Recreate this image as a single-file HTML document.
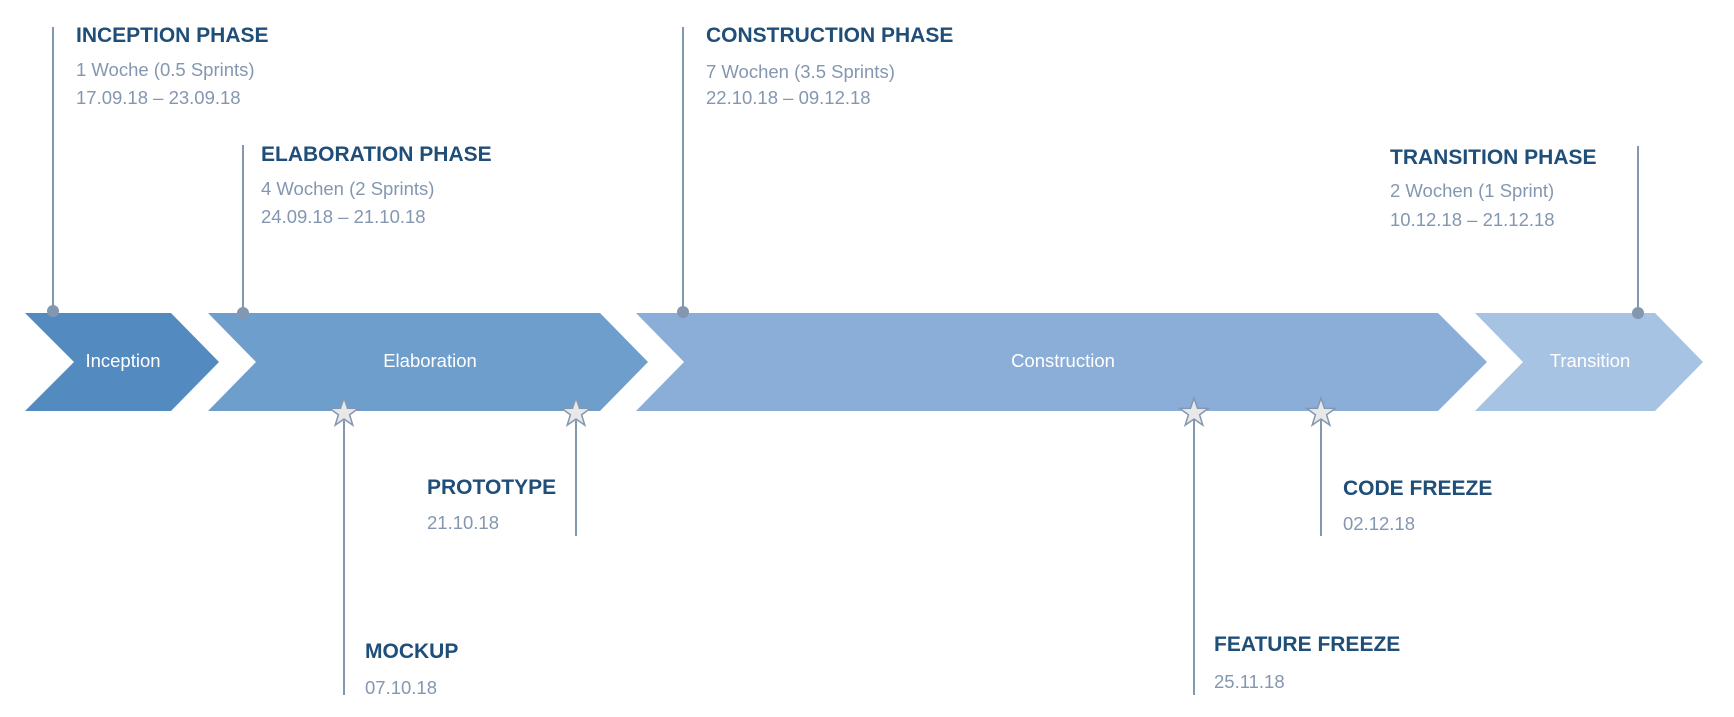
<!DOCTYPE html>
<html><head><meta charset="utf-8"><style>
html,body{margin:0;padding:0;background:#fff;}
svg{display:block;}
.h{font-family:"Liberation Sans",sans-serif;font-weight:bold;font-size:21px;fill:#1f4e79;}
.s{font-family:"Liberation Sans",sans-serif;font-size:18.5px;fill:#8497b0;}
.l{font-family:"Liberation Sans",sans-serif;font-size:18.5px;fill:#fff;}
.ln{stroke:#8497b0;stroke-width:2;}
.st{fill:#e8e8e8;stroke:#8497b0;stroke-width:1.5;}
</style></head><body>
<svg width="1734" height="717" viewBox="0 0 1734 717">
<defs>
<polygon id="star" points="0,-15 3.5,-4.8 14.3,-4.6 5.6,1.8 8.8,12.1 0,6 -8.8,12.1 -5.6,1.8 -14.3,-4.6 -3.5,-4.8"/>
</defs>
<polygon points="25,313 171,313 219,362 171,411 25,411 74,362" fill="#538bc1"/>
<polygon points="208,313 600,313 648,362 600,411 208,411 256,362" fill="#6d9ecc"/>
<polygon points="636,313 1438,313 1487,362 1438,411 636,411 684,362" fill="#8aaed8"/>
<polygon points="1475,313 1655,313 1703,362 1655,411 1475,411 1523,362" fill="#a6c3e3"/>
<text class="l" x="123" y="367" text-anchor="middle">Inception</text>
<text class="l" x="430" y="367" text-anchor="middle">Elaboration</text>
<text class="l" x="1063" y="367" text-anchor="middle">Construction</text>
<text class="l" x="1590" y="367" text-anchor="middle">Transition</text>
<line class="ln" x1="53" y1="27" x2="53" y2="311"/>
<circle cx="53" cy="311" r="6" fill="#8497b0"/>
<line class="ln" x1="243" y1="145" x2="243" y2="313"/>
<circle cx="243" cy="313" r="6" fill="#8497b0"/>
<line class="ln" x1="683" y1="27" x2="683" y2="312"/>
<circle cx="683" cy="312" r="6" fill="#8497b0"/>
<line class="ln" x1="1638" y1="146" x2="1638" y2="313"/>
<circle cx="1638" cy="313" r="6" fill="#8497b0"/>
<text class="h" x="76" y="42">INCEPTION PHASE</text>
<text class="s" x="76" y="76">1 Woche (0.5 Sprints)</text>
<text class="s" x="76" y="104">17.09.18 – 23.09.18</text>
<text class="h" x="261" y="161">ELABORATION PHASE</text>
<text class="s" x="261" y="195">4 Wochen (2 Sprints)</text>
<text class="s" x="261" y="223">24.09.18 – 21.10.18</text>
<text class="h" x="706" y="42">CONSTRUCTION PHASE</text>
<text class="s" x="706" y="78">7 Wochen (3.5 Sprints)</text>
<text class="s" x="706" y="104">22.10.18 – 09.12.18</text>
<text class="h" x="1390" y="164">TRANSITION PHASE</text>
<text class="s" x="1390" y="197">2 Wochen (1 Sprint)</text>
<text class="s" x="1390" y="226">10.12.18 – 21.12.18</text>
<line class="ln" x1="344" y1="413" x2="344" y2="695"/>
<line class="ln" x1="576" y1="413" x2="576" y2="536"/>
<line class="ln" x1="1194" y1="413" x2="1194" y2="695"/>
<line class="ln" x1="1321" y1="413" x2="1321" y2="536"/>
<use href="#star" class="st" x="344" y="413"/>
<use href="#star" class="st" x="576" y="413"/>
<use href="#star" class="st" x="1194" y="413"/>
<use href="#star" class="st" x="1321" y="413"/>
<text class="h" x="427" y="494">PROTOTYPE</text>
<text class="s" x="427" y="529">21.10.18</text>
<text class="h" x="365" y="658">MOCKUP</text>
<text class="s" x="365" y="694">07.10.18</text>
<text class="h" x="1214" y="651">FEATURE FREEZE</text>
<text class="s" x="1214" y="688">25.11.18</text>
<text class="h" x="1343" y="495">CODE FREEZE</text>
<text class="s" x="1343" y="530">02.12.18</text>
</svg>
</body></html>
